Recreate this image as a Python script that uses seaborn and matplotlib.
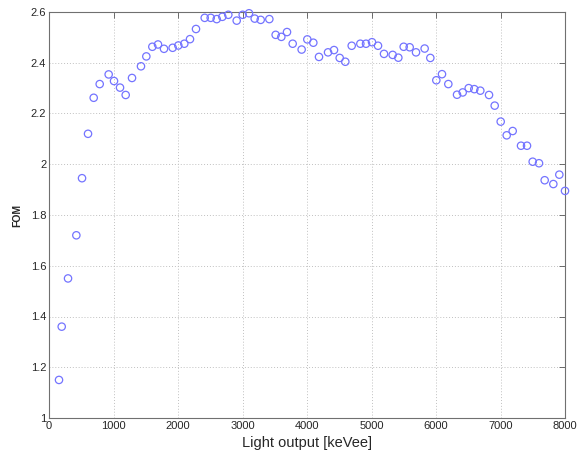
import numpy as np
import pandas as pd
import matplotlib.pyplot as plt
import seaborn as sns

# Values
light_output = [155, 197, 295, 424, 512, 605, 693, 786, 925, 1008, 1101, 1189, 1287,
                1426, 1509, 1602, 1690, 1783, 1917, 2005, 2098, 2186, 2279, 2414,
                2507, 2600, 2687, 2780, 2910, 3003, 3101, 3189, 3282, 3416, 3514,
                3602, 3690, 3778, 3917, 4005, 4098, 4186, 4326, 4419, 4507, 4594,
                4693, 4827, 4915, 5008, 5101, 5194, 5328, 5416, 5499, 5592, 5690,
                5824, 5912, 6005, 6093, 6191, 6326, 6414, 6507, 6594, 6687, 6822,
                6910, 7003, 7096, 7189, 7318, 7411, 7499, 7597, 7685, 7819, 7912, 8000]
fom = [1.15, 1.36, 1.55, 1.72, 1.945, 2.12, 2.262, 2.316, 2.354, 2.328, 2.302, 2.273,
       2.34, 2.386, 2.425, 2.463, 2.472, 2.455, 2.459, 2.468, 2.475, 2.493, 2.533,
       2.577, 2.577, 2.572, 2.581, 2.589, 2.566, 2.589, 2.595, 2.574, 2.569, 2.572,
       2.51, 2.502, 2.521, 2.475, 2.452, 2.492, 2.479, 2.423, 2.441, 2.45, 2.419,
       2.404, 2.467, 2.475, 2.475, 2.481, 2.467, 2.435, 2.431, 2.42, 2.463, 2.461,
       2.441, 2.456, 2.419, 2.331, 2.355, 2.316, 2.274, 2.283, 2.3, 2.296, 2.29,
       2.273, 2.231, 2.168, 2.114, 2.131, 2.073, 2.073, 2.01, 2.004, 1.937, 1.922,
       1.959, 1.895]

x_ticks = [0, 1000, 2000, 3000, 4000, 5000, 6000, 7000, 8000]
y_ticks = [1, 1.2, 1.4, 1.6, 1.8, 2, 2.2, 2.4, 2.6]
y_tick_labels = ["1", "1.2", "1.4", "1.6", "1.8", "2", "2.2", "2.4", "2.6"]

df = pd.DataFrame({"light": light_output, "fom": fom})

sns.set_style("white")
plt.rcParams["font.family"] = ["Liberation Sans", "DejaVu Sans"]

fig = plt.figure(figsize=(5.87, 4.57), dpi=100)
ax = fig.add_axes([49 / 587, 1 - 418 / 457, 516 / 587, 406 / 457])

sns.scatterplot(data=df, x="light", y="fom", ax=ax, marker="o", s=28,
                facecolors="none", edgecolor="#7474ff", linewidth=0.9,
                clip_on=False, zorder=3)

ax.set_xlim(0, 8000)
ax.set_ylim(1, 2.6)
ax.set_xticks(x_ticks)
ax.set_yticks(y_ticks)
ax.set_yticklabels(y_tick_labels)
ax.grid(True, linestyle=(0, (1, 2)), color="#c0c0c0", linewidth=0.7)
ax.tick_params(direction="in", top=True, right=True, length=4, width=0.6,
               labelsize=8, color="#555555", pad=2)
for s in ax.spines.values():
    s.set_color("#707070")
    s.set_linewidth(0.8)

ax.set_xlabel("Light output [keVee]", fontsize=10.5, labelpad=4)
ax.set_ylabel("FOM", fontsize=7.5, fontweight="bold", labelpad=6)

plt.savefig("out.png", dpi=100)
plt.close()
